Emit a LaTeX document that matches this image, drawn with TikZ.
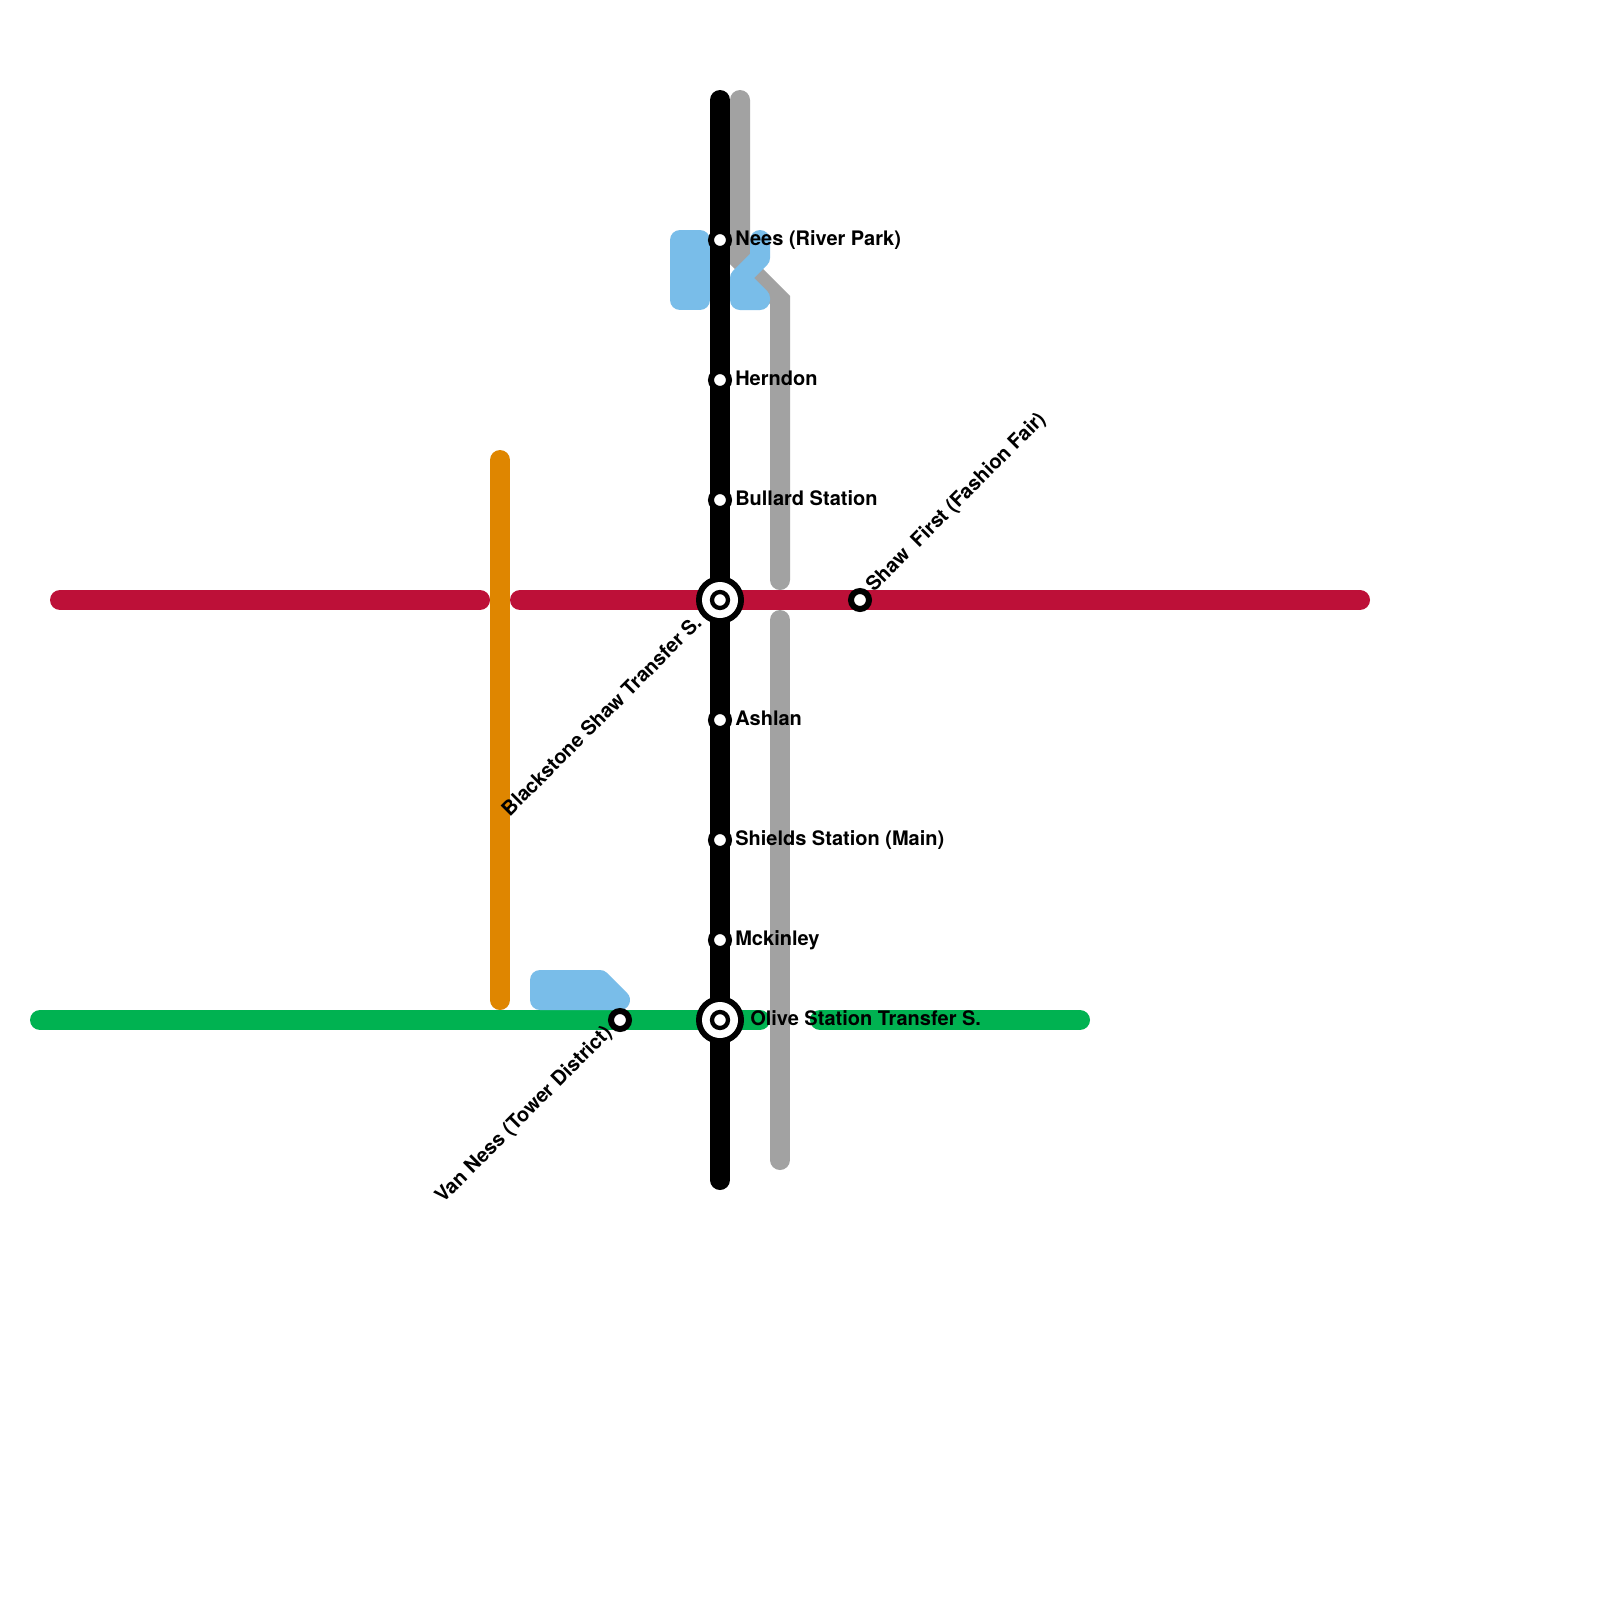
\documentclass[tikz,border=0pt]{standalone}
\usepackage{fontspec}
\setmainfont{TeX Gyre Heros}
\definecolor{lred}{HTML}{BD1038}
\definecolor{lgreen}{HTML}{00B251}
\definecolor{lorange}{HTML}{DF8600}
\definecolor{lgray}{HTML}{A2A2A2}
\definecolor{lblue}{HTML}{79BDE9}
\tikzset{
  metro/.style={line width=15pt,line cap=round,line join=miter},
  pool/.style={fill=lblue,draw=lblue,line width=15pt,line join=round},
  stn/.style={circle,fill=white,draw=black,line width=4.5pt,minimum size=13.5pt,inner sep=0pt,outer sep=0pt},
  hub/.style={circle,fill=black,minimum size=36pt,inner sep=0pt,outer sep=0pt},
  hubring/.style={circle,fill=white,minimum size=27pt,inner sep=0pt,outer sep=0pt},
  hubcore/.style={circle,fill=white,draw=black,line width=3.2pt,minimum size=12pt,inner sep=0pt,outer sep=0pt},
  lbl/.style={font=\bfseries\fontsize{15pt}{18pt}\selectfont,inner sep=0pt,text=black},
}
\begin{document}
\begin{tikzpicture}[x=0.75pt,y=-0.75pt]
\useasboundingbox (0,0) rectangle (1600,1600);
\fill[white] (0,0) rectangle (1600,1600);
% line end points
\coordinate (ga) at (740,100); \coordinate (gb) at (740,260);
\coordinate (gd) at (780,300); \coordinate (ge) at (780,580);
\coordinate (gf) at (780,620); \coordinate (gg) at (780,1160);
\coordinate (ra) at (60,600); \coordinate (rb) at (480,600);
\coordinate (rc) at (520,600); \coordinate (rd) at (1360,600);
\coordinate (oa) at (500,460); \coordinate (ob) at (500,1000);
\coordinate (gra) at (40,1020); \coordinate (grb) at (760,1020);
\coordinate (grc) at (820,1020); \coordinate (grd) at (1080,1020);
\coordinate (ba) at (720,100); \coordinate (bb) at (720,1180);
% lines
\draw[metro,lred] (ra) -- (rb);
\draw[metro,lred] (rc) -- (rd);
\draw[metro,lgreen] (gra) -- (grb);
\draw[metro,lgreen] (grc) -- (grd);
\draw[metro,lorange] (oa) -- (ob);
\draw[metro,lgray] (ga) -- (gb) -- (gd) -- (ge);
\draw[metro,lgray] (gf) -- (gg);
% water
\filldraw[pool] (680,240) -- (700,240) -- (700,300) -- (680,300) -- cycle;
\filldraw[pool] (760,240) -- (760,258) -- (740,278) -- (760,298) -- (760,300) -- (740,300) -- (740,278) -- (760,258) -- cycle;
\filldraw[pool] (540,980) -- (600,980) -- (620,1000) -- (540,1000) -- cycle;
\draw[metro,black] (ba) -- (bb);
% stations
\node[stn] (nees) at (720,240) {};
\node[stn] (herndon) at (720,380) {};
\node[stn] (bullard) at (720,500) {};
\node[stn] (ashlan) at (720,720) {};
\node[stn] (shields) at (720,840) {};
\node[stn] (mckinley) at (720,940) {};
\node[stn] (shaw) at (860,600) {};
\node[stn] (vanness) at (620,1020) {};
\node[hub] (bla) at (720,600) {};
\node[hubring] (blb) at (720,600) {};
\node[hubcore] (blc) at (720,600) {};
\node[hub] (ola) at (720,1020) {};
\node[hubring] (olb) at (720,1020) {};
\node[hubcore] (olc) at (720,1020) {};
% labels
\node[lbl,anchor=base west] (tnees) at (735,245) {Nees (River Park)};
\node[lbl,anchor=base west] (therndon) at (735,385) {Herndon};
\node[lbl,anchor=base west] (tbullard) at (735,505) {Bullard Station};
\node[lbl,anchor=base west] (tashlan) at (735,725) {Ashlan};
\node[lbl,anchor=base west] (tshields) at (735,845) {Shields Station (Main)};
\node[lbl,anchor=base west] (tmck) at (735,945) {Mckinley};
\node[lbl,anchor=base west] (tolive) at (750,1025) {Olive Station Transfer S.};
\node[lbl,anchor=base west,rotate=45] (tshaw) at (874,593) {Shaw\ \ First (Fashion Fair)};
\node[lbl,anchor=base east,rotate=45] (tblack) at (703,624) {Blackstone Shaw Transfer S.};
\node[lbl,anchor=base east,rotate=45] (tvan) at (613,1034) {Van Ness (Tower District)};
\end{tikzpicture}
\end{document}
